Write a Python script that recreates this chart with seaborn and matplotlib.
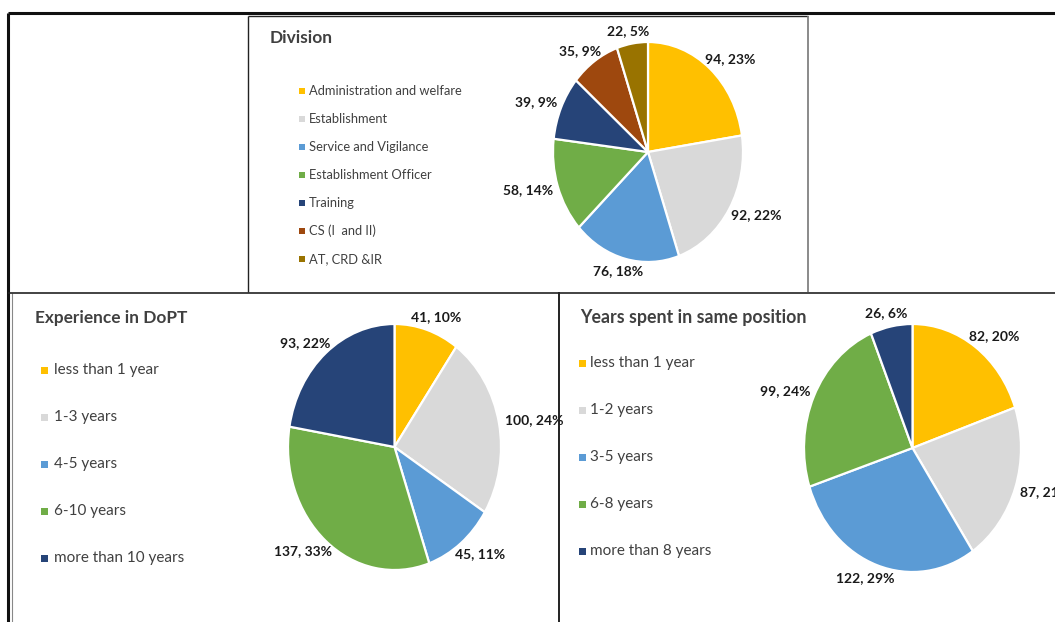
import numpy as np
import matplotlib
matplotlib.use("Agg")
import matplotlib.pyplot as plt
from matplotlib.lines import Line2D
from matplotlib.patches import Rectangle
import seaborn as sns

sns.set_theme(style="white")
plt.rcParams["font.family"] = ["Lato", "DejaVu Sans"]

# ---- data ----
division_labels = ["Administration and welfare", "Establishment", "Service and Vigilance",
                   "Establishment Officer", "Training", "CS (I  and II)", "AT, CRD &IR"]
division_counts = [94, 92, 76, 58, 39, 35, 22]
division_pct = [23, 22, 18, 14, 9, 9, 5]

experience_labels = ["less than 1 year", "1-3 years", "4-5 years", "6-10 years",
                     "more than 10 years"]
experience_counts = [41, 100, 45, 137, 93]
experience_pct = [10, 24, 11, 33, 22]

position_labels = ["less than 1 year", "1-2 years", "3-5 years", "6-8 years",
                   "more than 8 years"]
position_counts = [82, 87, 122, 99, 26]
position_pct = [20, 21, 29, 24, 6]

office_colors = ["#FFC000", "#D9D9D9", "#5B9BD5", "#70AD47", "#264478", "#9E480E", "#997300"]

W, H = 1055, 622
fig = plt.figure(figsize=(W / 100, H / 100), dpi=100)
fig.patch.set_facecolor("white")


def fx(x):
    return x / W


def fy(y):
    return 1 - y / H


def line(x0, y0, x1, y1, lw=1.0, color="#222222"):
    fig.add_artist(Line2D([fx(x0), fx(x1)], [fy(y0), fy(y1)], transform=fig.transFigure,
                          color=color, lw=lw, solid_capstyle="butt"))


# panel frames
line(8, 13, W, 13, lw=2.2, color="#111111")
line(8, 13, 8, H, lw=2.2, color="#111111")
line(12, 293, 12, H, lw=0.8, color="#888888")
line(248, 16, 248, 292, lw=1.0)
line(248, 16, 808, 16, lw=1.0)
line(808, 16, 808, 292, lw=1.2, color="#777777")
line(8, 292.5, W, 292.5, lw=1.2, color="#222222")
line(559, 292, 559, H, lw=1.4, color="#222222")

pie_axes = []


def draw_pie(box, counts, pct, colors):
    left, top, right, bottom = box
    ax = fig.add_axes([fx(left), fy(bottom), fx(right - left), (bottom - top) / H])
    wedges, _ = ax.pie(counts, colors=colors, startangle=90, counterclock=False,
                       wedgeprops=dict(edgecolor="white", linewidth=1.6))
    ax.set_aspect("auto")
    ax.set_xlim(-1, 1)
    ax.set_ylim(-1, 1)
    ax.axis("off")
    # data labels sit just outside each slice, pushed outward by half their size
    anns = []
    for w, c, p in zip(wedges, counts, pct):
        phi = np.deg2rad((w.theta1 + w.theta2) / 2)
        ann = ax.annotate(f"{c}, {p}%", xy=(1.06 * np.cos(phi), 1.06 * np.sin(phi)),
                          xytext=(0, 0), textcoords="offset pixels",
                          ha="center", va="center", fontsize=10, fontweight="bold",
                          color="#1a1a1a", annotation_clip=False)
        anns.append((ann, phi))
    pie_axes.append(anns)
    return wedges


def draw_legend(wedges, labels, x, y, pitch, fontsize, square, gap):
    for i, (w, lab) in enumerate(zip(wedges, labels)):
        yy = y + i * pitch
        fig.add_artist(Rectangle((fx(x - square / 2), fy(yy + square / 2)),
                                 square / W, square / H, transform=fig.transFigure,
                                 facecolor=w.get_facecolor(), edgecolor="none"))
        fig.text(fx(x + square / 2 + gap), fy(yy), lab, fontsize=fontsize,
                 ha="left", va="center", color="#404040")


# Division
w1 = draw_pie((553, 42, 743, 262), division_counts, division_pct, office_colors)
fig.text(fx(270), fy(38), "Division", fontsize=12.5, fontweight="bold",
         ha="left", va="center", color="#404040")
draw_legend(w1, division_labels, 302, 91, 28, 9.3, 6, 4)

# Experience in DoPT
w2 = draw_pie((288, 324, 501, 570), experience_counts, experience_pct, office_colors[:5])
fig.text(fx(35), fy(318), "Experience in DoPT", fontsize=12.4, fontweight="bold",
         ha="left", va="center", color="#404040")
draw_legend(w2, experience_labels, 44, 370, 47, 11, 7, 6)

# Years spent in same position
w3 = draw_pie((804, 324, 1021, 572), position_counts, position_pct, office_colors[:5])
fig.text(fx(580), fy(318), "Years spent in same position", fontsize=12.8, fontweight="bold",
         ha="left", va="center", color="#404040")
draw_legend(w3, position_labels, 582, 363, 47, 11, 7, 5)

fig.canvas.draw()
renderer = fig.canvas.get_renderer()
for anns in pie_axes:
    for ann, phi in anns:
        bb = ann.get_window_extent(renderer)
        ann.xyann = (np.cos(phi) * bb.width / 2, np.sin(phi) * bb.height / 2)

fig.savefig("out.png", dpi=100, facecolor="white")
